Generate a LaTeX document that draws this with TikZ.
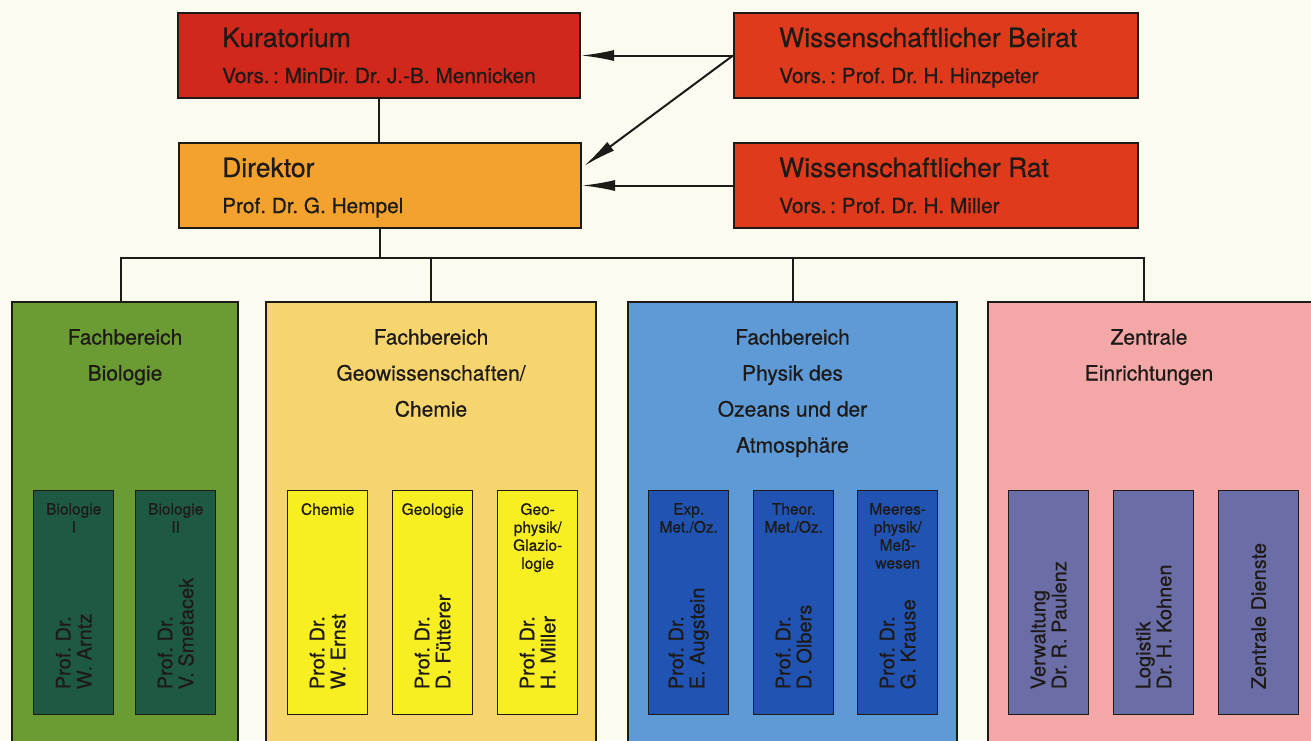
\documentclass[tikz,border=0pt]{standalone}
\usepackage{fontspec}
\setmainfont[FakeBold=0.6]{TeX Gyre Heros}
\usetikzlibrary{arrows.meta,calc}
\definecolor{bg}{HTML}{FBFBF0}
\definecolor{linec}{HTML}{1E1A18}
\definecolor{kurred}{HTML}{D2281C}
\definecolor{beired}{HTML}{DF3A1C}
\definecolor{dirorange}{HTML}{F3A22E}
\definecolor{fgreen}{HTML}{6B9C33}
\definecolor{dgreen}{HTML}{1E5A42}
\definecolor{lyellow}{HTML}{F6D56E}
\definecolor{iyellow}{HTML}{F7EF22}
\definecolor{lblue}{HTML}{5E9AD6}
\definecolor{dblue}{HTML}{2153B3}
\definecolor{fpink}{HTML}{F3A7A6}
\definecolor{violet}{HTML}{6A6DA6}
\frenchspacing
\begin{document}
\begin{tikzpicture}[x=1pt,y=-1pt,
  box/.style={draw=linec, line width=2pt, inner sep=0pt, anchor=north west},
  topbox/.style={box, minimum height=85pt},
  bigbox/.style={box, minimum height=470pt},
  ibox/.style={box, line width=1.4pt, minimum width=80pt, minimum height=224pt},
  ttl/.style={anchor=base west, inner sep=0pt, text=linec, font=\fontsize{26.5}{30}\selectfont},
  sub/.style={anchor=base west, inner sep=0pt, text=linec, font=\fontsize{20.8}{24}\selectfont},
  ft/.style={anchor=north, inner sep=0pt, align=center, text=linec, font=\fontsize{21}{36}\selectfont},
  lab/.style={anchor=north, inner sep=0pt, align=center, text=linec, font=\fontsize{15.5}{18}\selectfont},
  nm/.style={rotate=90, anchor=west, inner sep=0pt, align=left, text=linec, font=\fontsize{20}{21}\selectfont},
  ln/.style={draw=linec, line width=2pt},
  arr/.style={ln, -{Latex[length=33pt,width=11pt]}}
]
\useasboundingbox (0,0) rectangle (1311,740);
\clip (0,0) rectangle (1311,740);
\fill[bg] (0,0) rectangle (1311,740);

% top boxes
\node[topbox, fill=kurred, minimum width=402pt] (kur) at (177,12) {};
\node[topbox, fill=beired, minimum width=404pt] (bei) at (733,12) {};
\node[topbox, fill=dirorange, minimum width=402pt] (dir) at (178,142) {};
\node[topbox, fill=beired, minimum width=404pt] (rat) at (733,142) {};

\node[ttl] (kurT) at ($(kur.north west)+(45,35)$) {Kuratorium};
\node[sub] (kurS) at ($(kur.north west)+(45,71)$) {Vors.\,: MinDir. Dr. J.-B. Mennicken};
\node[ttl] (beiT) at ($(bei.north west)+(46,35)$) {Wissenschaftlicher Beirat};
\node[sub] (beiS) at ($(bei.north west)+(46,71)$) {Vors.\,: Prof. Dr. H. Hinzpeter};
\node[ttl] (dirT) at ($(dir.north west)+(44,35)$) {Direktor};
\node[sub] (dirS) at ($(dir.north west)+(44,71)$) {Prof. Dr. G. Hempel};
\node[ttl] (ratT) at ($(rat.north west)+(46,35)$) {Wissenschaftlicher Rat};
\node[sub] (ratS) at ($(rat.north west)+(46,71)$) {Vors.\,: Prof. Dr. H. Miller};

% arrows
\coordinate (dtip) at (584,166);
\draw[arr] (bei.west) -- (kur.east);
\draw[arr] (bei.west) -- (dtip);
\draw[arr] (rat.west) -- (dir.east);

% big boxes
\node[bigbox, fill=fgreen, minimum width=226pt] (fb1) at (11,301) {};
\node[bigbox, fill=lyellow, minimum width=330pt] (fb2) at (265,301) {};
\node[bigbox, fill=lblue, minimum width=329pt] (fb3) at (627,301) {};
\node[bigbox, fill=fpink, minimum width=340pt] (fb4) at (987,301) {};

% tree
\coordinate (busy) at (0,258);
\coordinate (bus) at (dir.south |- busy);
\coordinate (gdrop) at (121,301);
\coordinate (zdrop) at (1144,301);
\draw[ln] (kur.south) -- (kur.south |- dir.north);
\draw[ln] (dir.south) -- (bus);
\draw[ln] (gdrop) |- (bus) -| (zdrop);
\draw[ln] (fb2.north) -- (fb2.north |- bus);
\draw[ln] (fb3.north) -- (fb3.north |- bus);

% titles
\node[ft] (t1) at ($(fb1.north)+(0,28)$) {Fachbereich\\Biologie};
\node[ft] (t2) at ($(fb2.north)+(0,28)$) {Fachbereich\\Geowissenschaften/\\Chemie};
\node[ft] (t3) at ($(fb3.north)+(0,28)$) {Fachbereich\\Physik des\\Ozeans und der\\Atmosphäre};
\node[ft] (t4) at ($(fb4.north west)+(162,28)$) {Zentrale\\Einrichtungen};

% inner boxes
\node[ibox, fill=dgreen] (b1) at (33,490) {};
\node[ibox, fill=dgreen] (b2) at (135,490) {};
\node[ibox, fill=iyellow] (y1) at (287,490) {};
\node[ibox, fill=iyellow] (y2) at (392,490) {};
\node[ibox, fill=iyellow] (y3) at (497,490) {};
\node[ibox, fill=dblue] (p1) at (648,490) {};
\node[ibox, fill=dblue] (p2) at (753,490) {};
\node[ibox, fill=dblue] (p3) at (857,490) {};
\node[ibox, fill=violet] (z1) at (1008,490) {};
\node[ibox, fill=violet] (z2) at (1113,490) {};
\node[ibox, fill=violet] (z3) at (1218,490) {};

% inner labels
\node[lab] (b1L) at ($(b1.north)+(0,13)$) {Biologie\\I};
\node[lab] (b2L) at ($(b2.north)+(0,13)$) {Biologie\\II};
\node[lab] (y1L) at ($(y1.north)+(0,13)$) {Chemie};
\node[lab] (y2L) at ($(y2.north)+(0,13)$) {Geologie};
\node[lab] (y3L) at ($(y3.north)+(0,13)$) {Geo-\\physik/\\Glazio-\\logie};
\node[lab] (p1L) at ($(p1.north)+(0,13)$) {Exp.\\Met./Oz.};
\node[lab] (p2L) at ($(p2.north)+(0,13)$) {Theor.\\Met./Oz.};
\node[lab] (p3L) at ($(p3.north)+(0,13)$) {Meeres-\\physik/\\Meß-\\wesen};

% names
\node[nm] (b1N) at ($(b1.south)+(0,-26)$) {Prof. Dr.\\W. Arntz};
\node[nm] (b2N) at ($(b2.south)+(0,-26)$) {Prof. Dr.\\V. Smetacek};
\node[nm] (y1N) at ($(y1.south)+(0,-26)$) {Prof. Dr.\\W. Ernst};
\node[nm] (y2N) at ($(y2.south)+(0,-26)$) {Prof. Dr.\\D. Fütterer};
\node[nm] (y3N) at ($(y3.south)+(0,-26)$) {Prof. Dr.\\H. Miller};
\node[nm] (p1N) at ($(p1.south)+(0,-26)$) {Prof. Dr.\\E. Augstein};
\node[nm] (p2N) at ($(p2.south)+(0,-26)$) {Prof. Dr.\\D. Olbers};
\node[nm] (p3N) at ($(p3.south)+(0,-26)$) {Prof. Dr.\\G. Krause};
\node[nm] (z1N) at ($(z1.south)+(0,-26)$) {Verwaltung\\Dr. R. Paulenz};
\node[nm] (z2N) at ($(z2.south)+(0,-26)$) {Logistik\\Dr. H. Kohnen};
\node[nm] (z3N) at ($(z3.south)+(0,-26)$) {Zentrale Dienste};
\end{tikzpicture}
\end{document}
